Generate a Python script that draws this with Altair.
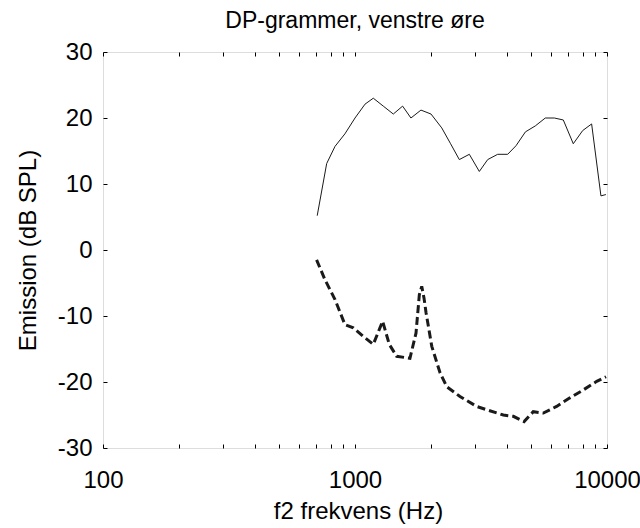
import altair as alt
import pandas as pd

# Upper (solid) curve: DP emission
solid_f = [708, 772, 833, 912, 1000, 1096, 1182, 1295, 1419, 1545, 1667, 1827, 2003, 2209, 2395,
           2594, 2842, 3114, 3362, 3683, 4035, 4354, 4746, 5194, 5690, 6180, 6708, 7348, 8010,
           8690, 9460, 9900]
solid_db = [5.2, 13.1, 15.7, 17.6, 20.0, 22.1, 23.0, 21.8, 20.6, 21.8, 20.0, 21.2, 20.6, 18.5, 16.1,
            13.7, 14.5, 11.9, 13.7, 14.5, 14.5, 15.8, 17.9, 18.8, 20.0, 20.0, 19.7, 16.1, 18.1,
            19.1, 8.2, 8.4]

# Lower (dashed) curve: noise floor
dash_f = [704, 760, 833, 912, 985, 1079, 1182, 1287, 1368, 1463, 1652, 1746, 1800, 1840, 1879,
          1914, 2017, 2175, 2312, 2610, 3038, 3327, 3878, 4249, 4688, 5099, 5588, 6310, 7127,
          8055, 9105, 9910]
dash_db = [-1.5, -4.5, -7.5, -11.3, -11.8, -13.1, -14.3, -10.8, -14.3, -16.1, -16.4, -12.6, -6.8,
           -5.5, -7.3, -9.5, -14.6, -18.6, -20.7, -22.2, -23.7, -24.2, -25.0, -25.2, -26.0, -24.5,
           -24.7, -23.7, -22.4, -21.2, -19.9, -19.2]

x_major = [100, 1000, 10000]
x_all_ticks = [100, 200, 300, 400, 500, 600, 700, 800, 900,
               1000, 2000, 3000, 4000, 5000, 6000, 7000, 8000, 9000, 10000]
y_ticks = [-30, -20, -10, 0, 10, 20, 30]

title_text = "DP-grammer, venstre øre"
x_title = "f2 frekvens (Hz)"
y_title = "Emission (dB SPL)"

FONT = "Liberation Sans"
INK = "#1a1a1a"
W, H = 504, 396

solid = pd.DataFrame({"f": solid_f, "db": solid_db})
dash = pd.DataFrame({"f": dash_f, "db": dash_db})

xs = alt.Scale(type="log", domain=[100, 10000], nice=False)
ys = alt.Scale(domain=[-30, 30], nice=False, zero=False)

# label axes
x_lab = alt.Axis(orient="bottom", values=x_major, format="d", ticks=False, tickSize=0,
                 domain=False, grid=False, labelFontSize=24, labelFont=FONT,
                 labelColor="black", labelFlush=False, labelPadding=20,
                 title=x_title, titleFont=FONT, titleFontSize=24, titleFontWeight="normal",
                 titleColor="black", titleBaseline="alphabetic", titleAlign="center",
                 titleX=W / 2 + 3, titleY=70)
y_lab = alt.Axis(orient="left", values=y_ticks, labelExpr="toString(datum.value)",
                 ticks=False, tickSize=0, domain=False, grid=False, labelFontSize=24,
                 labelFont=FONT, labelColor="black", labelPadding=11,
                 title=y_title, titleFont=FONT, titleFontSize=24, titleFontWeight="normal",
                 titleColor="black", titleBaseline="alphabetic", titleAlign="center",
                 titleAngle=270, titleX=-68, titleY=H / 2)


def tick_axis(orient, values):
    return alt.Axis(orient=orient, values=values, labels=False, domain=False, grid=False,
                    ticks=True, tickSize=4, tickColor="black", tickWidth=1, offset=-4,
                    title=None)


solid_layer = alt.Chart(solid).mark_line(color=INK, strokeWidth=1).encode(
    x=alt.X("f:Q", scale=xs, axis=x_lab),
    y=alt.Y("db:Q", scale=ys, axis=y_lab),
)

dash_layer = alt.Chart(dash).mark_line(color=INK, strokeWidth=3, strokeDash=[8, 4]).encode(
    x=alt.X("f:Q", scale=xs, axis=tick_axis("bottom", x_all_ticks)),
    y=alt.Y("db:Q", scale=ys, axis=tick_axis("left", y_ticks)),
)

ghost_layer = alt.Chart(dash).mark_line(opacity=0).encode(
    x=alt.X("f:Q", scale=xs, axis=tick_axis("top", x_all_ticks)),
    y=alt.Y("db:Q", scale=ys, axis=tick_axis("right", y_ticks)),
)

chart = alt.layer(solid_layer, dash_layer, ghost_layer).resolve_axis(
    x="independent", y="independent"
).properties(
    width=W,
    height=H,
    title=alt.TitleParams(title_text, font=FONT, fontSize=23, fontWeight="normal",
                          color="black", anchor="middle", baseline="alphabetic",
                          offset=0, dy=11),
    autosize=alt.AutoSizeParams(type="none"),
    padding={"left": 103, "top": 52, "right": 33, "bottom": 80},
).configure_view(
    stroke="black", strokeWidth=1
).configure(background="white")

chart.save("out.html", embed_options={"renderer": "svg", "actions": False})
